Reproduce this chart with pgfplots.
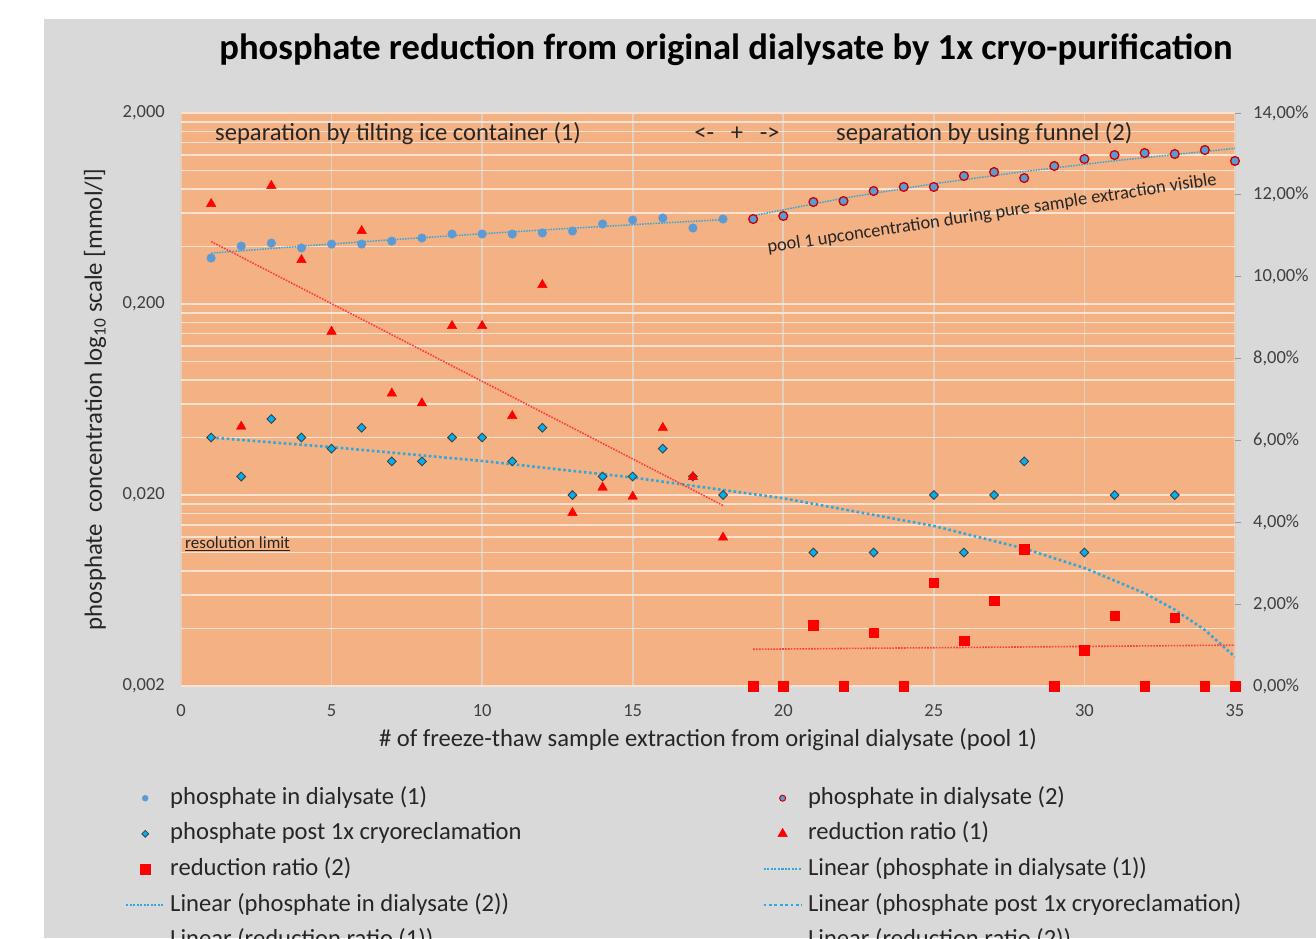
\documentclass[border=0pt]{standalone}
\usepackage{fontspec}
\setmainfont{Carlito}
\usepackage{pgfplots}
\pgfplotsset{compat=1.18}

\definecolor{chartbg}{RGB}{217,217,217}
\definecolor{plotbg}{RGB}{244,177,131}
\definecolor{hgrid}{RGB}{250,226,208}
\definecolor{vgrid}{RGB}{224,206,192}
\definecolor{dotblue}{RGB}{91,155,213}
\definecolor{diamfill}{RGB}{0,176,240}
\definecolor{trendblue}{RGB}{48,168,220}
\definecolor{redmk}{RGB}{255,0,0}
\definecolor{trendred}{RGB}{255,60,60}
\definecolor{ticktxt}{RGB}{64,64,64}
\definecolor{txt}{RGB}{38,38,38}

\begin{document}
\begin{tikzpicture}[x=1pt,y=1pt]
\clip (0,0) rectangle (1316,-938);
\fill[white] (0,0) rectangle (1316,-938);
\fill[chartbg] (44,-19) rectangle (1316,-938);

% common frame of both axes
\pgfplotsset{
  frame/.style={
    at={(181pt,-686pt)}, anchor=south west,
    width=1054pt, height=573pt, scale only axis,
    xmin=0, xmax=35,
    axis line style={draw=none},
    tick label style={font=\fontsize{18.5}{20}\selectfont, text=ticktxt, inner sep=0pt},
    /pgf/number format/assume math mode=true,
  },
  legend image code/.code={
    \draw[mark repeat=2,mark phase=2,#1] plot coordinates {(0pt,0pt) (19pt,0pt) (38pt,0pt)};
  },
}

% left: log concentration axis
\begin{axis}[frame,
  ymode=log, ymin=0.002, ymax=2,
  ytick={0.002,0.02,0.2,2},
  yticklabels={{0,002},{0,020},{0,200},{2,000}},
  minor ytick={0.004,0.006,0.008,0.010,0.012,0.014,0.016,0.018,
               0.04,0.06,0.08,0.10,0.12,0.14,0.16,0.18,
               0.4,0.6,0.8,1.0,1.2,1.4,1.6,1.8},
  xtick={0,5,...,35},
  major tick length=0pt, minor tick length=0pt,
  yticklabel style={xshift=-16pt},
  xticklabel style={yshift=-18pt},
  axis background/.style={fill=plotbg},
  ymajorgrids, yminorgrids, xmajorgrids,
  major grid style={draw=hgrid, line width=1.8pt},
  minor grid style={draw=hgrid, line width=1.8pt},
  x grid style={draw=vgrid, line width=1.8pt},
  xlabel={\# of freeze-thaw sample extraction from original dialysate (pool 1)},
  ylabel={phosphate\ \ concentration log\textsubscript{10} scale [mmol/l]},
  every axis x label/.style={at={(axis description cs:0.5,-0.0942)}, anchor=center,
    font=\fontsize{24.6}{28}\selectfont, text=txt},
  every axis y label/.style={at={(axis description cs:-0.0816,0.5)}, anchor=center, rotate=90,
    font=\fontsize{24.8}{28}\selectfont, text=txt},
]
% phosphate in dialysate (1)
\addplot[only marks, mark=*, mark size=4.3pt, draw=dotblue, fill=dotblue] coordinates {
(1,0.348) (2,0.402) (3,0.417) (4,0.393) (5,0.412) (6,0.412) (7,0.427) (8,0.443) (9,0.465)
(10,0.465) (11,0.465) (12,0.471) (13,0.482) (14,0.525) (15,0.551) (16,0.564) (17,0.500) (18,0.557)
};
% phosphate in dialysate (2)
\addplot[only marks, mark=*, mark size=4.4pt, mark options={draw=redmk!80!black, fill=dotblue, line width=1.3pt}] coordinates {
(19,0.557) (20,0.578) (21,0.684) (22,0.692) (23,0.781) (24,0.820) (25,0.820) (26,0.936) (27,0.982)
(28,0.913) (29,1.056) (30,1.149) (31,1.205) (32,1.235) (33,1.220) (34,1.281) (35,1.122)
};
% phosphate post 1x cryoreclamation
\addplot[only marks, mark=square*, mark size=3.1pt, mark options={rotate=45, draw=black!75, fill=diamfill, line width=0.9pt}] coordinates {
(1,0.040) (2,0.025) (3,0.050) (4,0.040) (5,0.035) (6,0.045) (7,0.030) (8,0.030) (9,0.040)
(10,0.040) (11,0.030) (12,0.045) (13,0.020) (14,0.025) (15,0.025) (16,0.035) (17,0.025) (18,0.020)
(21,0.010) (23,0.010) (25,0.020) (26,0.010) (27,0.020) (28,0.030) (30,0.010) (31,0.020) (33,0.020)
};
% linear trends
\addplot[trendblue, line width=1.5pt, dash pattern=on 1.5pt off 1.2pt] coordinates {
(1,0.3693) (4,0.4017) (7,0.4341) (10,0.4665) (13,0.4989) (16,0.5313) (18,0.5529)
};
\addplot[trendblue, line width=1.5pt, dash pattern=on 1.5pt off 1.2pt] coordinates {
(19,0.5802) (22,0.7163) (25,0.8523) (28,0.9883) (31,1.1244) (35,1.3058)
};
\addplot[trendblue, line width=2.6pt, dash pattern=on 2.6pt off 2.6pt] coordinates {
(1,0.0400) (5,0.03563) (10,0.03016) (15,0.02470) (20,0.01923) (25,0.01377) (28,0.01049)
(30,0.00830) (32,0.00612) (33,0.00502) (34,0.00393) (35,0.00284)
};
\end{axis}

% right: reduction ratio axis (percent)
\begin{axis}[frame,
  ymin=0, ymax=14,
  axis x line=none, axis y line*=right,
  ytick={0,2,...,14},
  yticklabels={{0,00\%},{2,00\%},{4,00\%},{6,00\%},{8,00\%},{10,00\%},{12,00\%},{14,00\%}},
  ytick style={draw=black!40, line width=0.8pt},
  tick align=outside, major tick length=6pt,
  yticklabel style={xshift=12pt},
  legend cell align=left,
  legend style={draw=none, fill=none, inner sep=0pt,
    at={(axis description cs:-0.0531,-0.1745)}, anchor=north west,
    legend columns=2, column sep=5pt, row sep=11.6pt,
    font=\fontsize{24.6}{28}\selectfont, text=txt,
    nodes={inner sep=0pt, text height=18pt, text depth=6pt}},
]
\addlegendimage{only marks, mark=*, mark size=3pt, draw=dotblue, fill=dotblue}
\addlegendentry{\makebox[587pt][l]{phosphate in dialysate (1)}}
\addlegendimage{only marks, mark=*, mark size=3pt, mark options={draw=redmk!80!black, fill=dotblue, line width=1pt}}
\addlegendentry{phosphate in dialysate (2)}
\addlegendimage{only marks, mark=square*, mark size=2.4pt, mark options={rotate=45, draw=black!75, fill=diamfill, line width=0.8pt}}
\addlegendentry{\makebox[587pt][l]{phosphate post 1x cryoreclamation}}
% reduction ratio (1)
\addplot[only marks, mark=triangle*, mark size=5.5pt, color=redmk] coordinates {
(1,11.78) (2,6.34) (3,12.22) (4,10.41) (5,8.66) (6,11.12) (7,7.15) (8,6.91) (9,8.80)
(10,8.80) (11,6.60) (12,9.80) (13,4.23) (14,4.85) (15,4.63) (16,6.31) (17,5.11) (18,3.63)
};
\addlegendentry{reduction ratio (1)}
% reduction ratio (2)
\addplot[only marks, mark=square*, mark size=4.8pt, color=redmk] coordinates {
(19,0) (20,0) (21,1.49) (22,0) (23,1.30) (24,0) (25,2.52) (26,1.11) (27,2.08)
(28,3.34) (29,0) (30,0.88) (31,1.72) (32,0) (33,1.67) (34,0) (35,0)
};
\addlegendentry{\makebox[587pt][l]{reduction ratio (2)}}
\addlegendimage{trendblue, line width=2pt, dash pattern=on 2pt off 1.5pt}
\addlegendentry{Linear (phosphate in dialysate (1))}
\addlegendimage{trendblue, line width=2pt, dash pattern=on 2pt off 1.5pt}
\addlegendentry{\makebox[587pt][l]{Linear (phosphate in dialysate (2))}}
\addlegendimage{trendblue, line width=2.8pt, dash pattern=on 2.8pt off 2.6pt}
\addlegendentry{Linear (phosphate post 1x cryoreclamation)}
\addplot[trendred, line width=1.6pt, dash pattern=on 1.6pt off 1.3pt] coordinates {
(1,10.86) (18,4.41)
};
\addlegendentry{\makebox[587pt][l]{Linear (reduction ratio (1))}}
\addplot[trendred, line width=1.6pt, dash pattern=on 1.6pt off 1.3pt] coordinates {
(19,0.898) (35,0.999)
};
\addlegendentry{Linear (reduction ratio (2))}
\end{axis}

% title and notes
\node[font=\fontsize{36.6}{40}\selectfont\bfseries, text=black] at (726,-50) {phosphate reduction from original dialysate by 1x cryo-purification};
\node[font=\fontsize{24.6}{28}\selectfont, text=txt, anchor=west, inner sep=0pt] at (215,-134) {separation by tilting ice container (1)};
\node[font=\fontsize{24.6}{28}\selectfont, text=txt, inner sep=0pt] at (737,-134) {<-\ \ \ +\ \ \ ->};
\node[font=\fontsize{24.6}{28}\selectfont, text=txt, anchor=west, inner sep=0pt] at (836,-134) {separation by using funnel (2)};
\node[font=\fontsize{18.4}{21}\selectfont, text=txt, rotate=8.6, inner sep=0pt] at (992,-214) {pool 1 upconcentration during pure sample extraction visible};
\node[font=\fontsize{17}{20}\selectfont, text=txt, anchor=west, inner sep=0pt] at (185,-544) {\underline{resolution limit}};
\end{tikzpicture}
\end{document}
